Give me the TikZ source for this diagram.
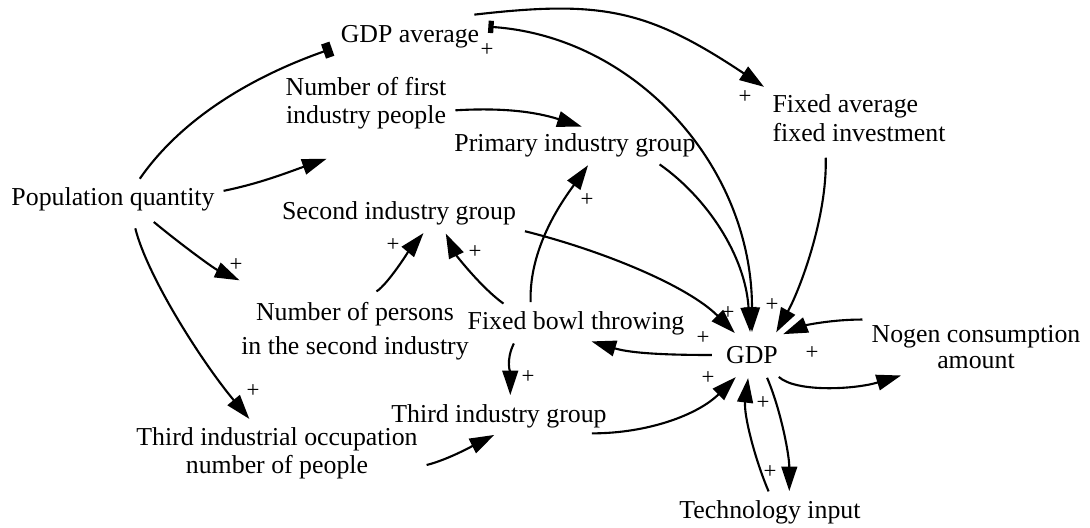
\documentclass[tikz,border=0pt]{standalone}
\usepackage{fontspec}
\setmainfont{Liberation Serif}
\usetikzlibrary{arrows.meta}

\begin{document}
\begin{tikzpicture}[
    x=0.02cm, y=0.02cm,
    font=\fontsize{14.7}{17}\selectfont,
    >={Triangle[length=14pt,width=9pt]},
    var/.style  = {inner sep=3pt, align=center},
    pol/.style  = {inner sep=0pt, font=\fontsize{13}{13}\selectfont},
    link/.style = {->, line width=1.2pt, shorten <=2pt, shorten >=2pt},
    stub/.style = {{Rectangle[length=3pt,width=7pt]}->}
]
\useasboundingbox (0,0) rectangle (1090,-528);

% Model variables
\node[var] (gdpavg)   at (410,-37)  {GDP average};
\node[var] (first)    at (366,-103) {Number of first\\[-1pt]industry people};
\node[var] (primary)  at (575,-145) {Primary industry group};
\node[var] (pop)      at (113,-199) {Population quantity};
\node[var] (second)   at (399,-213) {Second industry group};
\node[var, align=left] (fixinv) at (859,-118) {Fixed average\\[-0.5pt]fixed investment};
\node[var] (secpers)  at (355,-331) {Number of persons\\[2pt]in the second industry};
\node[var] (bowl)     at (576,-323) {Fixed bowl throwing};
\node[var, inner sep=6pt] (gdp) at (752,-355) {GDP};
\node[var] (nogen)    at (976,-347) {Nogen consumption\\[-2pt]amount};
\node[var] (thirdgrp) at (499,-416) {Third industry group};
\node[var] (thirdocc) at (277,-453) {Third industrial occupation\\[-1pt]number of people};
\node[var] (tech)     at (770,-512) {Technology input};

% Links leaving the population
\draw[link, -{Rectangle[length=5pt,width=8.5pt]}] (pop.35)
    .. controls +(45,65) and +(-80,-28) .. (gdpavg.188);
\draw[link] (pop.4) .. controls +(40,8) and +(-40,-14) .. ([shift={(-36,-23)}]first.south);
\draw[link, shorten <=5pt] (pop.-27) .. controls +(30,-25) and +(-30,14) .. ([shift={(7,15)}]secpers.north west);
\draw[link, shorten <=7pt] (pop.-42) .. controls +(15,-60) and +(-50,60) .. (thirdocc.129);

% GDP average
\draw[link] ([shift={(-14,5)}]gdpavg.north east) .. controls +(130,15) and +(-120,80) .. (fixinv.north west);
\draw[link, stub] (gdpavg.8) .. controls +(150,-10) and +(0,170) .. (gdp.north);

% Industry groups
\draw[link] (first.-5) .. controls +(50,3) and +(-50,16) .. (primary.60);
\draw[link, shorten <=6pt] (secpers.70) .. controls +(20,12) and +(-15,-18) .. (second.-33);
\draw[link] (bowl.166) .. controls +(-25,18) and +(12,-25) .. (second.-21);
\draw[link] (bowl.159) .. controls +(-2,60) and +(-25,-35) .. (primary.-49);
\draw[link] (bowl.196) .. controls +(-10,-20) and +(0,25) .. (thirdgrp.57);
\draw[link] (thirdocc.-5) .. controls +(25,6) and +(-20,-10) .. (thirdgrp.-95);

% Into GDP
\draw[link] (thirdgrp.-11) .. controls +(60,0) and +(-40,-40) .. (gdp.-125);
\draw[link] (second.south east) .. controls +(80,-20) and +(-50,50) .. (gdp.127);
\draw[link] (primary.-12) .. controls +(50,-35) and +(-5,80) .. (gdp.95);
\draw[link, shorten <=6pt] (fixinv.221) .. controls +(2,-70) and +(25,45) .. (gdp.41);
\draw[link] (nogen.north west) .. controls +(-35,0) and +(25,10) .. (gdp.35);
\draw[link] (tech.north) .. controls +(-15,35) and +(-5,-40) .. (gdp.-100);

% Out of GDP
\draw[link] (gdp.west) .. controls +(-60,0) and +(40,-12) .. (bowl.-55);
\draw[link] (gdp.-39) .. controls +(20,-18) and +(-50,-15) .. (nogen.201);
\draw[link] (gdp.-55) .. controls +(15,-35) and +(0,40) .. (tech.42);

% Polarity signs
\foreach \px/\py [count=\k] in {487/-50, 745/-97, 587/-200, 393/-245, 475/-252,
    236/-265, 253/-391, 528/-377, 728/-313, 772/-305, 703/-338, 708/-378,
    812/-353, 763/-403, 770/-472}
  \node[pol] (plus\k) at (\px,\py) {+};

\end{tikzpicture}
\end{document}
